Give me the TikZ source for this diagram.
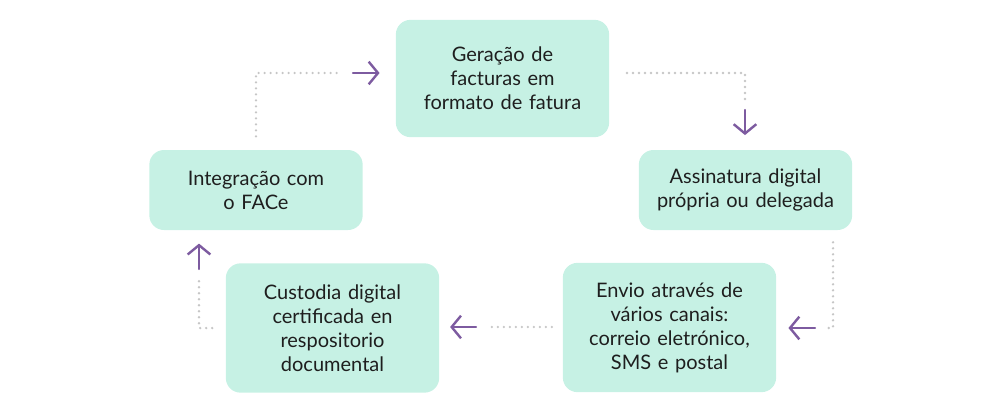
\documentclass[tikz,border=0pt]{standalone}
\usepackage{fontspec}
\setmainfont{Lato}
\usepackage{tikz}
\usetikzlibrary{arrows.meta}
\definecolor{mint}{HTML}{C6F1E4}
\definecolor{violet}{HTML}{7D5BA0}
\definecolor{dotgray}{HTML}{C6C6C6}
\definecolor{ink}{HTML}{1E1E1E}
\begin{document}
\begin{tikzpicture}[x=0.75pt,y=-0.75pt]
          \useasboundingbox (0,0) rectangle (1000,418);
          \tikzset{card/.style={fill=mint, rounded corners=11pt, minimum width=160pt,
              inner sep=0pt, text width=150pt, align=center, text=ink,
              font=\fontsize{15}{18}\selectfont}};
          \tikzset{dotline/.style={dotgray, line width=1.9pt, line cap=round,
              dash pattern=on 0pt off 4.5pt}};
          \tikzset{flow/.style={violet, line width=1.8pt, line cap=round,
              -{Straight Barb[length=7pt,width=17pt,line width=1.8pt]}}};

          \node[card, minimum height=88pt] (gen) at (502.5,78.5) {Geração de\\facturas em\\formato de fatura};
          \node[card, minimum height=60pt] (sig) at (745.5,190) {Assinatura digital\\própria ou delegada};
          \node[card, minimum height=97pt] (env) at (669.5,327.5) {Envio através de\\vários canais:\\correio eletrónico,\\SMS e postal};
          \node[card, minimum height=97pt] (cus) at (332.5,328) {Custodia digital\\certificada en\\respositorio\\documental};
          \node[card, minimum height=60pt] (int) at (256,190) {Integração com\\o FACe};

          % arrow starts
          \coordinate (h1) at (353,73);
          \coordinate (s2) at (627,73);
          \coordinate (h2) at (745,110);
          \coordinate (k3) at (833,328);
          \coordinate (h3) at (815,328);
          \coordinate (h4) at (476,327);
          \coordinate (h5) at (199,269);

          % dotted legs
          \draw[dotline, shorten <=10pt, shorten >=8pt] (int.north) |- (h1);
          \draw[dotline, shorten >=7.5pt] (s2) -| (h2);
          \draw[dotline, shorten <=9pt, shorten >=7.5pt] (sig.south -| k3) -- (k3) -- (h3);
          \draw[dotline, shorten <=8pt, shorten >=8pt] (env.west |- h4) -- (h4);
          \draw[dotline, shorten <=10pt, shorten >=7pt] (cus.west) -| (h5);

          % arrows
          \draw[flow, shorten >=12pt] (h1) -- (gen.west |- h1);
          \draw[flow, shorten >=11pt] (h2) -- (sig.north -| h2);
          \draw[flow, shorten >=9pt] (h3) -- (env.east |- h3);
          \draw[flow, shorten >=8pt] (h4) -- (cus.east |- h4);
          \draw[flow, shorten >=10pt] (h5) -- (int.south -| h5);
        \end{tikzpicture}
\end{document}
